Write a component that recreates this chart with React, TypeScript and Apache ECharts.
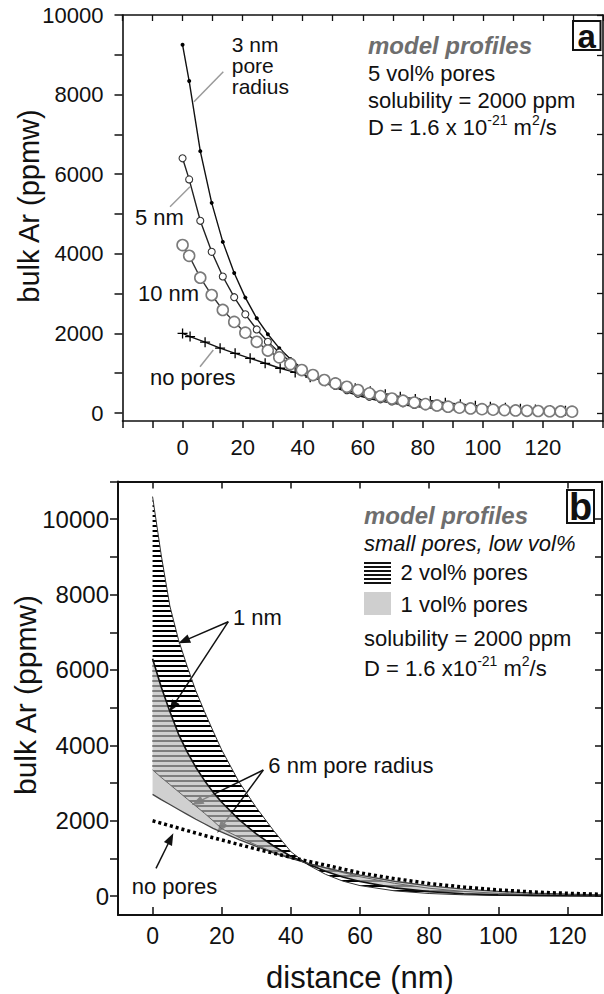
import React, { useEffect, useRef } from 'react';
import * as echarts from 'echarts';

const FONT = '"Liberation Sans", Arial, Helvetica, sans-serif';
const INK = '#111111';

// ---------------- Panel a: 5 vol% pores ----------------
const aXLabels = [0, 20, 40, 60, 80, 100, 120];
const aYTicks = [0, 1000, 2000, 3000, 4000, 5000, 6000, 7000, 8000, 9000, 10000];
const aYLabels = [0, 2000, 4000, 6000, 8000, 10000];

const xPores = [0, 2.2, 5.9, 9.7, 13.4, 17.2, 20.9, 24.7, 28.4, 32.2, 35.9, 39.7, 43.4, 47.2, 50.9, 54.7, 58.4, 62.2, 65.9, 69.7, 73.4, 77.2, 80.9, 84.7, 88.4, 92.2, 95.9, 99.7, 103.4, 107.2, 110.9, 114.7, 118.4, 122.2, 125.9, 129.7];
const v3nm = [9250, 8340, 6580, 5280, 4300, 3520, 2900, 2380, 1980, 1630, 1360, 1120, 930, 770, 640, 530, 440, 365, 300, 250, 205, 170, 140, 115, 95, 78, 64, 53, 44, 36, 30, 25, 21, 18, 15, 12];
const v5nm = [6400, 5870, 4830, 4050, 3430, 2910, 2480, 2100, 1790, 1520, 1290, 1100, 940, 800, 680, 575, 485, 410, 345, 290, 245, 205, 172, 145, 122, 102, 86, 72, 61, 51, 43, 36, 31, 26, 22, 19];
const v10nm = [4220, 3950, 3400, 2965, 2590, 2290, 2020, 1790, 1570, 1400, 1230, 1080, 955, 830, 745, 660, 578, 495, 425, 365, 310, 265, 225, 190, 160, 135, 115, 98, 85, 74, 65, 57, 51, 45, 40, 35];
const xNoPoresA = [0, 2.5, 7.5, 12.5, 17.5, 22.5, 27.5, 32.5, 37.5, 42.5, 47.5, 52.5, 57.5, 62.5, 67.5, 72.5, 77.5, 82.5, 87.5, 92.5, 97.5, 102.5, 107.5, 112.5, 117.5, 122.5, 127.5];
const vNoPoresA = [2000, 1920, 1780, 1630, 1500, 1375, 1250, 1125, 1020, 900, 800, 710, 620, 545, 475, 410, 355, 305, 260, 220, 185, 155, 130, 108, 90, 74, 60];

// ---------------- Panel b: small pores, low vol% ----------------
const bXLabels = [0, 20, 40, 60, 80, 100, 120];
const bYTicks = [0, 1000, 2000, 3000, 4000, 5000, 6000, 7000, 8000, 9000, 10000, 11000];
const bYLabels = [0, 2000, 4000, 6000, 8000, 10000];

const xB = [0, 2.5, 5, 7.5, 10, 12.5, 15, 17.5, 20, 25, 30, 35, 40, 45, 50, 55, 60, 70, 80, 90, 100, 110, 120, 130];
const v1nm2vol = [10600, 9050, 7700, 6800, 6100, 5450, 4900, 4380, 3880, 3030, 2350, 1740, 1180, 830, 580, 400, 280, 140, 70, 35, 18, 10, 5, 3];
const v1nm1vol = [6300, 5550, 4900, 4300, 3830, 3420, 3070, 2760, 2490, 2030, 1650, 1330, 1060, 850, 660, 510, 390, 220, 120, 65, 35, 20, 11, 6];
const v6nm2vol = [3350, 3150, 2960, 2770, 2580, 2390, 2200, 2000, 1790, 1560, 1355, 1170, 1010, 875, 745, 625, 515, 340, 210, 125, 75, 45, 27, 16];
const v6nm1vol = [2700, 2560, 2430, 2300, 2170, 2040, 1920, 1800, 1700, 1500, 1320, 1150, 1000, 870, 755, 650, 555, 395, 275, 185, 125, 82, 53, 34];
const vNoPoresB = [2000, 1935, 1870, 1805, 1740, 1675, 1610, 1550, 1490, 1370, 1250, 1140, 1030, 925, 825, 720, 620, 465, 335, 240, 165, 110, 75, 50];

const pairs = (xs: number[], ys: number[]) => xs.map((x, i) => [x, ys[i]]);
const plain = (v: number) => String(v);

function arrow(x1: number, y1: number, x2: number, y2: number) {
  const dx = x2 - x1, dy = y2 - y1;
  const L = Math.hypot(dx, dy);
  const ux = dx / L, uy = dy / L;
  const hl = 12, hw = 4.5;
  const bx = x2 - ux * hl, by = y2 - uy * hl;
  return [
    { type: 'line', silent: true, shape: { x1, y1, x2: bx + ux * 2, y2: by + uy * 2 }, style: { stroke: INK, lineWidth: 1.5 } },
    { type: 'polygon', silent: true, shape: { points: [[x2, y2], [bx - uy * hw, by + ux * hw], [bx + uy * hw, by - ux * hw]] }, style: { fill: INK } },
  ];
}

function txt(x: number, y: number, text: string, extra: any = {}) {
  return {
    type: 'text', x, y, silent: true,
    style: { text, fontSize: 22, fontFamily: FONT, fill: INK, align: 'left', verticalAlign: 'middle', ...extra },
  };
}

function vtxt(x: number, y: number, text: string, size: number) {
  return {
    type: 'text', x, y, rotation: Math.PI / 2, silent: true,
    style: { text, fontSize: size, fontFamily: FONT, fill: INK, align: 'center', verticalAlign: 'middle' },
  };
}

function richD(x: number, y: number, text: string) {
  return {
    type: 'text', x, y, silent: true,
    style: {
      text, align: 'left', verticalAlign: 'middle', fontFamily: FONT,
      rich: {
        n: { fontSize: 22, fontFamily: FONT, fill: INK, lineHeight: 28 },
        s: { fontSize: 14, fontFamily: FONT, fill: INK, lineHeight: 13, verticalAlign: 'top' },
      },
    },
  };
}

function axisBase(extra: any) {
  return {
    type: 'value',
    splitLine: { show: false },
    axisLine: { show: true, onZero: false, lineStyle: { color: INK, width: 1.6 } },
    ...extra,
  };
}

export default function App() {
  const ref = useRef<HTMLDivElement>(null);

  useEffect(() => {
    document.body.style.margin = '0';
    if (!ref.current) return;
    const chart = echarts.init(ref.current, null, { renderer: 'svg', width: 604, height: 994 });

    // hatch pattern
    const cv = document.createElement('canvas');
    cv.width = 8; cv.height = 5;
    const ctx = cv.getContext('2d')!;
    ctx.fillStyle = '#000';
    ctx.fillRect(0, 0, 8, 2);
    const hatch: any = { image: cv.toDataURL(), repeat: 'repeat', imageWidth: 8, imageHeight: 5 };

    const band = (upper: number[], lower: number[], fill: any) => ({
      type: 'custom',
      xAxisIndex: 2,
      yAxisIndex: 2,
      coordinateSystem: 'cartesian2d',
      silent: true,
      clip: true,
      data: [[0, 0]],
      renderItem: (_p: any, api: any) => {
        const pts: number[][] = xB.map((x, i) => api.coord([x, upper[i]]));
        for (let i = xB.length - 1; i >= 0; i--) pts.push(api.coord([xB[i], lower[i]]));
        return { type: 'polygon', shape: { points: pts }, style: { fill, stroke: null, lineWidth: 0 } };
      },
    });

    const lineB = (ys: number[], color: string, width: number, type: any = 'solid') => ({
      type: 'line', xAxisIndex: 2, yAxisIndex: 2, data: pairs(xB, ys), symbol: 'none', silent: true,
      lineStyle: { color, width, type, cap: 'butt' }, z: 3,
    });

    const labelStyleA = { fontSize: 22, color: INK, fontFamily: FONT, formatter: plain };
    const labelStyleB = { fontSize: 23, color: INK, fontFamily: FONT, formatter: plain };

    const option: any = {
      animation: false,
      backgroundColor: '#ffffff',
      grid: [
        { left: 122.5, top: 15, width: 480.5, height: 406, containLabel: false, outerBoundsMode: 'none' },
        { left: 118, top: 481.5, width: 484, height: 433.5, containLabel: false, outerBoundsMode: 'none' },
      ],
      xAxis: [
        axisBase({
          gridIndex: 0, position: 'bottom', min: -20, max: 140, interval: 10,
          axisTick: { show: true, inside: false, length: 7, lineStyle: { color: INK, width: 1.5 } },
          axisLabel: { ...labelStyleA, margin: 15, customValues: aXLabels },
        }),
        axisBase({
          gridIndex: 0, position: 'top', min: -20, max: 140, interval: 10,
          axisTick: { show: true, inside: true, length: 6, lineStyle: { color: INK, width: 1.3 } },
          axisLabel: { show: false },
        }),
        axisBase({
          gridIndex: 1, position: 'bottom', min: -10, max: 130,
          axisLine: { show: true, onZero: false, lineStyle: { color: INK, width: 2 } },
          axisTick: { show: true, inside: true, length: 8, customValues: bXLabels, lineStyle: { color: INK, width: 1.5 } },
          axisLabel: { ...labelStyleB, margin: 9, customValues: bXLabels },
        }),
        axisBase({
          gridIndex: 1, position: 'top', min: -10, max: 130,
          axisLine: { show: true, onZero: false, lineStyle: { color: INK, width: 2 } },
          axisTick: { show: true, inside: true, length: 7, customValues: bXLabels, lineStyle: { color: INK, width: 1.5 } },
          axisLabel: { show: false },
        }),
      ],
      yAxis: [
        axisBase({
          gridIndex: 0, position: 'left', min: -200, max: 10000,
          axisTick: { show: true, inside: false, length: 8, customValues: aYTicks, lineStyle: { color: INK, width: 1.5 } },
          axisLabel: { ...labelStyleA, margin: 19, customValues: aYLabels },
        }),
        axisBase({
          gridIndex: 0, position: 'right', min: -200, max: 10000,
          axisTick: { show: true, inside: true, length: 6, customValues: aYTicks, lineStyle: { color: INK, width: 1.3 } },
          axisLabel: { show: false },
        }),
        axisBase({
          gridIndex: 1, position: 'left', min: -500, max: 11000,
          axisLine: { show: true, onZero: false, lineStyle: { color: INK, width: 2 } },
          axisTick: { show: true, inside: false, length: 8, customValues: bYTicks, lineStyle: { color: INK, width: 1.5 } },
          axisLabel: { fontSize: 24, color: INK, fontFamily: FONT, margin: 9, customValues: bYLabels, formatter: plain },
        }),
        axisBase({
          gridIndex: 1, position: 'right', min: -500, max: 11000,
          axisLine: { show: true, onZero: false, lineStyle: { color: INK, width: 2 } },
          axisTick: { show: true, inside: true, length: 7, customValues: bYTicks, lineStyle: { color: INK, width: 1.5 } },
          axisLabel: { show: false },
        }),
      ],
      series: [
        // panel a
        {
          name: '3 nm', type: 'line', xAxisIndex: 0, yAxisIndex: 0, data: pairs(xPores, v3nm), silent: true,
          symbol: 'circle', symbolSize: 4, showAllSymbol: true,
          itemStyle: { color: '#000', borderWidth: 0 }, lineStyle: { color: '#111', width: 1.4 },
        },
        {
          name: '5 nm', type: 'line', xAxisIndex: 0, yAxisIndex: 0, data: pairs(xPores, v5nm), silent: true,
          symbol: 'circle', symbolSize: 7, showAllSymbol: true,
          itemStyle: { color: '#fff', borderColor: '#333', borderWidth: 1.1 }, lineStyle: { color: '#222', width: 1.4 },
        },
        {
          name: 'no pores', type: 'line', xAxisIndex: 0, yAxisIndex: 0, data: pairs(xNoPoresA, vNoPoresA), silent: true,
          symbol: 'path://M5,0L5,10M0,5L10,5', symbolSize: 10, showAllSymbol: true,
          itemStyle: { color: '#000', borderColor: '#000', borderWidth: 1.3 }, lineStyle: { color: '#111', width: 1.4 },
        },
        {
          name: '10 nm', type: 'line', xAxisIndex: 0, yAxisIndex: 0, data: pairs(xPores, v10nm), silent: true,
          symbol: 'circle', symbolSize: 11, showAllSymbol: true,
          itemStyle: { color: '#fff', borderColor: '#7a7a7a', borderWidth: 1.6 }, lineStyle: { color: '#333', width: 1.4 },
        },
        // panel b
        band(v1nm2vol, v6nm2vol, hatch),
        band(v1nm1vol, v6nm1vol, 'rgba(185,185,185,0.68)'),
        lineB(v1nm2vol, '#333', 1),
        lineB(v6nm2vol, '#666', 1),
        lineB(v1nm1vol, '#111', 1.6),
        lineB(v6nm1vol, '#444', 1.3),
        lineB(vNoPoresB, '#000', 3.5, [3, 3]),
      ],
      graphic: [
        // axis titles
        vtxt(28.5, 206, 'bulk Ar (ppmw)', 29),
        vtxt(25, 695, 'bulk Ar (ppmw)', 30),
        txt(360, 977, 'distance (nm)', { fontSize: 31, align: 'center' }),

        // panel a annotations
        txt(231.7, 44, '3 nm', { fontSize: 21 }),
        txt(231.7, 65, 'pore', { fontSize: 21 }),
        txt(231.7, 86, 'radius', { fontSize: 21 }),
        txt(135, 217, '5 nm'),
        txt(138, 293, '10 nm'),
        txt(150, 377, 'no pores'),
        { type: 'line', silent: true, shape: { x1: 223.3, y1: 71.7, x2: 194, y2: 101.7 }, style: { stroke: '#9a9a9a', lineWidth: 1.5 } },
        { type: 'line', silent: true, shape: { x1: 170, y1: 206.7, x2: 190, y2: 186.7 }, style: { stroke: '#9a9a9a', lineWidth: 1.5 } },
        { type: 'line', silent: true, shape: { x1: 200, y1: 366.7, x2: 213.3, y2: 350 }, style: { stroke: '#9a9a9a', lineWidth: 1.5 } },
        txt(368, 45, 'model profiles', { fontSize: 24, fontWeight: 'bold', fontStyle: 'italic', fill: '#6e6e6e' }),
        txt(368, 73, '5 vol% pores'),
        txt(368, 100, 'solubility = 2000 ppm'),
        richD(368, 127, '{n|D = 1.6 x 10}{s|-21}{n| m}{s|2}{n|/s}'),
        { type: 'rect', silent: true, shape: { x: 573, y: 21, width: 27.5, height: 29 }, style: { fill: '#fff', stroke: INK, lineWidth: 2 } },
        txt(586.7, 36, 'a', { fontSize: 33, fontWeight: 'bold', align: 'center' }),

        // panel b annotations
        txt(233, 617, '1 nm'),
        ...arrow(228.3, 621.7, 178.3, 643.3),
        ...arrow(228.3, 621.7, 169.3, 711.7),
        txt(268.3, 765, '6 nm pore radius'),
        ...arrow(263.3, 770, 191.7, 805),
        ...arrow(263.3, 770, 217.3, 832.7),
        txt(131.7, 886, 'no pores'),
        ...arrow(156, 868.3, 173.3, 833.3),
        txt(364, 515, 'model profiles', { fontSize: 24, fontWeight: 'bold', fontStyle: 'italic', fill: '#6e6e6e' }),
        txt(364, 543, 'small pores, low vol%', { fontStyle: 'italic' }),
        ...[563, 567, 571, 575, 579, 583].map((yy) => ({
          type: 'line', silent: true, shape: { x1: 364, y1: yy, x2: 391, y2: yy }, style: { stroke: INK, lineWidth: 2 },
        })),
        txt(400.6, 572, '2 vol% pores'),
        { type: 'rect', silent: true, shape: { x: 364, y: 592, width: 27, height: 23 }, style: { fill: '#cfcfcf' } },
        txt(400.6, 604, '1 vol% pores'),
        txt(364, 638, 'solubility = 2000 ppm'),
        richD(364, 668, '{n|D = 1.6 x10}{s|-21}{n| m}{s|2}{n|/s}'),
        { type: 'rect', silent: true, shape: { x: 567, y: 490, width: 27, height: 33 }, style: { fill: '#fff', stroke: INK, lineWidth: 2 } },
        txt(580.5, 507, 'b', { fontSize: 38, fontWeight: 'bold', align: 'center' }),
      ],
    };

    chart.setOption(option);
    return () => chart.dispose();
  }, []);

  return <div ref={ref} style={{ width: 604, height: 994, position: 'relative', background: '#fff' }} />;
}
